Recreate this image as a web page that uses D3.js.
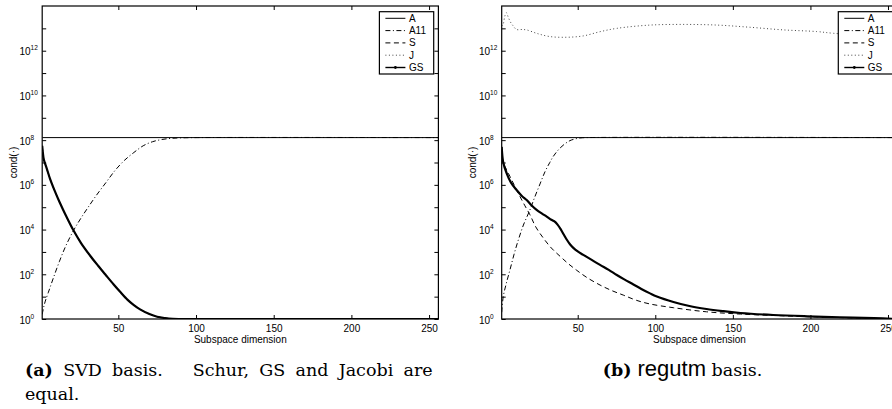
<!DOCTYPE html>
<html>
<head>
<meta charset="utf-8">
<script src="https://cdn.jsdelivr.net/npm/d3@7"></script>
<style>
  body { margin: 0; background: #fff; }
  svg { display: block; }
  .ax text { font-family: "Liberation Sans", Arial, sans-serif; }
</style>
</head>
<body>
<svg id="fig" width="892" height="409"></svg>
<script>
const xTicks = [50, 100, 150, 200, 250];
const yTickExps = [0, 2, 4, 6, 8, 10, 12];
const yMinorExps = [0, 1, 2, 3, 4, 5, 6, 7, 8, 9, 10, 11, 12, 13];
const legendNames = ["A", "A11", "S", "J", "GS"];

// (a) SVD basis
const svdAX = [1, 256];
const svdA = [1.3e8, 1.3e8];
const svdA11X = [1, 2, 3, 5, 8, 12, 16, 21, 26, 31, 36, 42, 48, 54, 60, 66, 72, 78, 84, 90, 100, 256];
const svdA11 = [1.6, 3.5, 6.3, 15.8, 63, 363, 1.74e3, 8.7e3, 3.3e4, 1.1e5, 3.5e5, 1.26e6, 4.5e6, 1.26e7, 2.8e7, 5.6e7, 8.5e7, 1.07e8, 1.2e8, 1.26e8, 1.3e8, 1.3e8];
// Schur, GS and Jacobi coincide
const svdSX = [1, 1.5, 2, 4, 6, 9, 12, 16, 21, 26, 32, 37, 42, 47, 51, 56, 60, 64, 70, 75, 80, 85, 90, 256];
const svdS = [5.6e7, 2.5e7, 1.4e7, 5.2e6, 1.9e6, 5.5e5, 1.8e5, 4.6e4, 9.5e3, 2.5e3, 660, 240, 91, 35, 17, 7.2, 4.2, 2.7, 1.66, 1.26, 1.1, 1.02, 1, 1];

// (b) regutm basis
const regAX = [1, 256];
const regA = [1.3e8, 1.3e8];
const regA11X = [1, 2, 4, 6.3, 9, 11.7, 15, 19.2, 22, 25.7, 29, 32, 34.3, 38, 41.8, 45, 48, 52, 56, 256];
const regA11 = [2, 10, 40, 155, 800, 3.4e3, 1.6e4, 7.6e4, 2.5e5, 1.1e6, 4e6, 1e7, 1.9e7, 4e7, 6.9e7, 9.5e7, 1.12e8, 1.26e8, 1.3e8, 1.3e8];
const regSX = [1, 2, 4, 6.3, 9, 12.8, 16, 19.2, 23, 27.8, 33, 38.6, 44, 49.4, 56, 64.4, 72, 79.4, 88, 96.6, 111.7, 133, 155, 180, 200, 220, 240, 256];
const regS = [4e7, 1e7, 5e6, 2.4e6, 1e6, 3e5, 1.15e5, 4.6e4, 1.3e4, 4.2e3, 1.5e3, 640, 295, 150, 71, 33, 18.6, 11.7, 6.8, 4.7, 3.2, 2.1, 1.66, 1.41, 1.26, 1.15, 1.07, 1.0];
const regJX = [1, 2, 3, 4, 5.2, 6.5, 8, 10.6, 14, 17.1, 23.5, 32, 43, 53.6, 64.4, 75.2, 96.6, 118, 140, 161, 183, 204, 215, 235, 256];
const regJ = [1.26e13, 1.58e13, 3.5e13, 5e13, 3.2e13, 2e13, 1.4e13, 8.9e12, 8.9e12, 8.5e12, 6e12, 4.3e12, 4e12, 4.6e12, 7.1e12, 1e13, 1.4e13, 1.5e13, 1.4e13, 1.12e13, 8.5e12, 7.2e12, 6e12, 5e12, 4.5e12];
const regGSX = [1, 2, 4.2, 7, 10.6, 14, 17.1, 20, 23.5, 27, 30, 33, 35, 37, 39, 41, 43, 45, 47, 50, 53.6, 59, 64.4, 70, 75.2, 80, 85.9, 91, 96.6, 101, 111.7, 122, 133, 144, 155, 176, 198, 219, 241, 256];
const regGS = [5e7, 1e7, 3.3e6, 1.26e6, 5.9e5, 3.2e5, 2.1e5, 1.26e5, 7.6e4, 5.2e4, 3.8e4, 2.75e4, 2.3e4, 1.66e4, 1.05e4, 6e3, 3.5e3, 2.2e3, 1.55e3, 1.05e3, 740, 440, 263, 158, 93, 59, 35, 22, 14, 10.2, 5.8, 3.8, 2.8, 2.24, 1.86, 1.51, 1.32, 1.2, 1.1, 1];

const styles = {
  A:   { w: 1,   dash: null,          color: "#000" },
  A11: { w: 1,   dash: "5,2.5,1,2.5", color: "#000" },
  S:   { w: 1,   dash: "5,3.5",       color: "#000" },
  J:   { w: 1,   dash: "1,2.5",       color: "#444" },
  GS:  { w: 2.2, dash: null,          color: "#000" }
};

const svg = d3.select("#fig");
svg.append("rect").attr("width", 892).attr("height", 409).attr("fill", "#fff");

const plotTop = 6, plotBottom = 319;
const y = d3.scaleLog().domain([1, 1e14]).range([plotBottom, plotTop]);

function panel(id, x0, x1, series) {
  const x = d3.scaleLinear().domain([1, 256]).range([x0, x1]);
  const g = svg.append("g").attr("class", "ax");

  svg.append("clipPath").attr("id", "clip-" + id)
    .append("rect").attr("x", x0).attr("y", plotTop).attr("width", x1 - x0).attr("height", plotBottom - plotTop);

  const plot = g.append("g").attr("clip-path", `url(#clip-${id})`);
  series.forEach(s => {
    const st = styles[s.name];
    const line = d3.line()
      .x((d, i) => x(s.x[i]))
      .y(d => y(d))
      .curve(d3.curveCatmullRom.alpha(0.5));
    plot.append("path")
      .attr("d", line(s.y))
      .attr("fill", "none")
      .attr("stroke", st.color)
      .attr("stroke-width", st.w)
      .attr("stroke-dasharray", st.dash)
      .attr("stroke-linejoin", "round");
  });

  // axes, ticks inward on all four sides
  const bx = g.append("g").attr("transform", `translate(0,${plotBottom})`)
    .call(d3.axisBottom(x).tickValues(xTicks).tickSizeInner(-4).tickSizeOuter(0).tickPadding(5.6));
  const tx = g.append("g").attr("transform", `translate(0,${plotTop})`)
    .call(d3.axisTop(x).tickValues(xTicks).tickSizeInner(-4).tickSizeOuter(0).tickFormat(""));
  const ly = g.append("g").attr("transform", `translate(${x0},0)`)
    .call(d3.axisLeft(y).tickValues(yMinorExps.map(e => 10 ** e)).tickSizeInner(-4).tickSizeOuter(0).tickFormat(""));
  const ry = g.append("g").attr("transform", `translate(${x1},0)`)
    .call(d3.axisRight(y).tickValues(yMinorExps.map(e => 10 ** e)).tickSizeInner(-4).tickSizeOuter(0).tickFormat(""));
  [bx, tx, ly, ry].forEach(a => {
    a.select(".domain").remove();
    a.selectAll("line").attr("stroke", "#000");
    a.selectAll("text").attr("font-size", 10).attr("fill", "#000");
  });

  // y labels 10^n
  const lab = g.append("g").selectAll("text").data(yTickExps).join("text")
    .attr("y", d => y(10 ** d) + 4.5)
    .attr("font-size", 10);
  lab.append("tspan").text("10").attr("x", x0 - 22.8);
  lab.append("tspan").text(d => d).attr("font-size", 6.5).attr("dy", -5);

  g.append("rect")
    .attr("x", x0).attr("y", plotTop).attr("width", x1 - x0).attr("height", plotBottom - plotTop)
    .attr("fill", "none").attr("stroke", "#000").attr("stroke-width", 1.2);

  g.append("text")
    .attr("x", (x0 + x1) / 2).attr("y", 343)
    .attr("text-anchor", "middle").attr("font-size", 10)
    .text("Subspace dimension");

  g.append("text")
    .attr("transform", `translate(${x0 - 25.5},${(plotTop + plotBottom) / 2}) rotate(-90)`)
    .attr("text-anchor", "middle").attr("font-size", 10)
    .text("cond(\u00b7)");

  // legend
  const lw = 54.3, lh = 62.3;
  const lx = x1 - 4.7 - lw, lyy = plotTop + 5.7;
  const leg = g.append("g").attr("transform", `translate(${lx},${lyy})`);
  leg.append("rect").attr("width", lw).attr("height", lh)
    .attr("fill", "#fff").attr("stroke", "#000").attr("stroke-width", 1.2);
  legendNames.forEach((n, i) => {
    const st = styles[n];
    const yy = 6.6 + i * 12.3;
    leg.append("line").attr("x1", 6).attr("x2", 26).attr("y1", yy).attr("y2", yy)
      .attr("stroke", st.color).attr("stroke-width", n === "GS" ? 1.4 : st.w)
      .attr("stroke-dasharray", st.dash);
    if (n === "GS") leg.append("circle").attr("cx", 16).attr("cy", yy).attr("r", 1.4).attr("fill", "#000");
    leg.append("text").attr("x", 29.5).attr("y", yy + 3.6).attr("font-size", 10).text(n);
  });
}

panel("a", 42.2, 438.4, [
  { name: "A", x: svdAX, y: svdA },
  { name: "A11", x: svdA11X, y: svdA11 },
  { name: "S", x: svdSX, y: svdS },
  { name: "J", x: svdSX, y: svdS },
  { name: "GS", x: svdSX, y: svdS }
]);

panel("b", 501.7, 897.3, [
  { name: "A", x: regAX, y: regA },
  { name: "A11", x: regA11X, y: regA11 },
  { name: "S", x: regSX, y: regS },
  { name: "J", x: regJX, y: regJ },
  { name: "GS", x: regGSX, y: regGS }
]);

// captions
const serif = "'DejaVu Serif', 'Liberation Serif', serif";
const capFont = 17.5;
const capWords = [["(a)", true], ["SVD", false], ["basis.", false], ["Schur,", false], ["GS", false], ["and", false], ["Jacobi", false], ["are", false]];
const capG = svg.append("g");
const nodes = capWords.map(([w, b]) => capG.append("text")
  .attr("y", 376).attr("font-family", serif).attr("font-size", capFont)
  .attr("font-weight", b ? "bold" : "normal").text(w));
const widths = nodes.map(n => n.node().getComputedTextLength());
const gapW = capWords.slice(0, -1).map((d, i) => i === 2 ? 2.9 : 1);
const free = (432.7 - 25) - d3.sum(widths);
const unit = free / d3.sum(gapW);
let cx = 25;
nodes.forEach((n, i) => {
  n.attr("x", cx);
  cx += widths[i] + (i < gapW.length ? gapW[i] * unit : 0);
});
capG.append("text").attr("x", 25).attr("y", 400)
  .attr("font-family", serif).attr("font-size", capFont).text("equal.");

const capB = svg.append("text").attr("x", 682.5).attr("y", 376).attr("text-anchor", "middle")
  .attr("font-family", serif).attr("font-size", capFont);
capB.append("tspan").attr("font-weight", "bold").text("(b) ");
capB.append("tspan").attr("font-family", "'Liberation Sans', Arial, sans-serif").attr("font-size", 22).text("regutm");
capB.append("tspan").text(" basis.");
</script>
</body>
</html>
